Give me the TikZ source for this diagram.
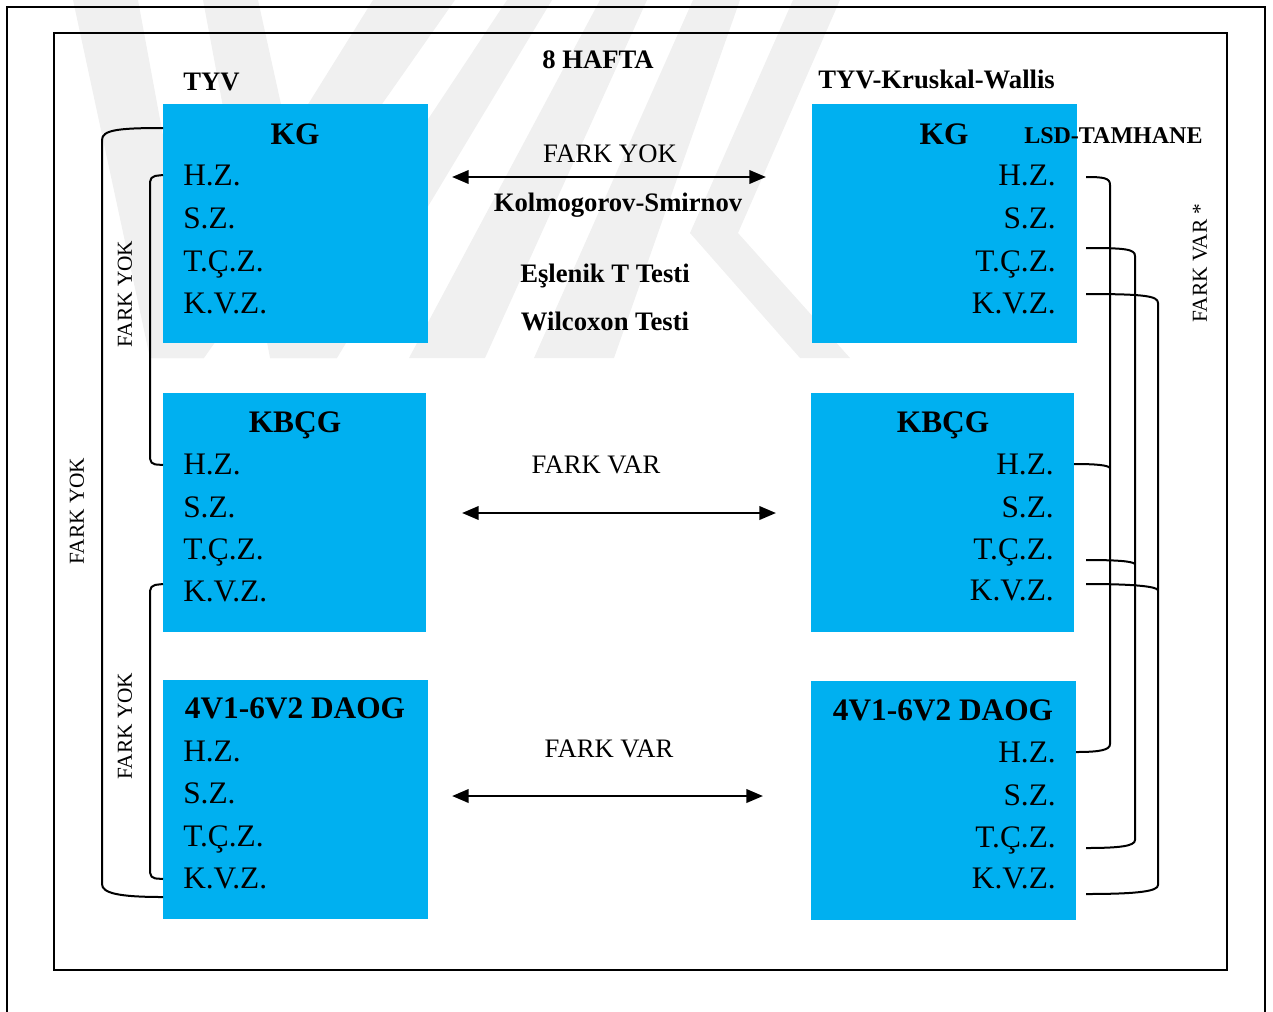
\documentclass[tikz,border=0pt]{standalone}
\usepackage{fontspec}
\setmainfont{Liberation Serif}
\usetikzlibrary{arrows.meta}
\definecolor{boxblue}{HTML}{00B0F0}
\definecolor{wmgray}{HTML}{F0F0F0}
\tikzset{
  bluebox/.style={fill=boxblue, draw=none, inner sep=0, anchor=north west},
  boxtxt/.style={font=\fontsize{23.5}{28}\selectfont, inner sep=0},
  boxhead/.style={font=\fontsize{23.5}{28}\selectfont\bfseries, inner sep=0, anchor=base},
  lbl/.style={font=\fontsize{20}{24}\selectfont, inner sep=0, anchor=base},
  blbl/.style={font=\fontsize{20}{24}\selectfont\bfseries, inner sep=0, anchor=base},
  vlbl/.style={font=\fontsize{16}{19}\selectfont, inner sep=0, rotate=90, anchor=center},
  conn/.style={line width=1.5pt, line join=round},
  twoarrow/.style={line width=2pt, {Triangle[length=12.5pt,width=10pt]}-{Triangle[length=12.5pt,width=10pt]}},
  frameline/.style={line width=1.9pt},
  wm/.style={fill=wmgray, draw=none}
}
\begin{document}
\begin{tikzpicture}[x=0.75pt,y=-0.75pt]
\useasboundingbox (0,0) rectangle (1273,1011);
% watermark (faint)
\begin{scope}
\clip (0,0) rectangle (1273,358);
\fill[wm] (373,0) -- (455,0) -- (204,358) -- (150,358) -- cycle;
\fill[wm] (73,0) -- (138,0) -- (204,358) -- (150,358) -- cycle;
\fill[wm] (507,0) -- (552,0) -- (337,358) -- (270,358) -- cycle;
\fill[wm] (203,0) -- (258,0) -- (337,358) -- (270,358) -- cycle;
\fill[wm] (600,0) -- (647,0) -- (485,358) -- (409,358) -- cycle;
\fill[wm] (693,0) -- (740,0) -- (614,358) -- (534,358) -- cycle;
\fill[wm] (793,0) -- (840,0) -- (738,233) -- (690,233) -- cycle;
\fill[wm] (690,233) -- (738,233) -- (850,358) -- (800,358) -- cycle;
\end{scope}
% frames
\draw[frameline] (7,1015) -- (7,7) -- (1265,7) -- (1265,1015);
\draw[frameline] (54,33) rectangle (1227,970);
% boxes
\node[bluebox, minimum width=265*0.75pt, minimum height=239*0.75pt] (lkg) at (163,104) {};
\node[bluebox, minimum width=263*0.75pt, minimum height=239*0.75pt] (lkb) at (163,393) {};
\node[bluebox, minimum width=265*0.75pt, minimum height=239*0.75pt] (lda) at (163,680) {};
\node[bluebox, minimum width=265*0.75pt, minimum height=239*0.75pt] (rkg) at (812,104) {};
\node[bluebox, minimum width=263*0.75pt, minimum height=239*0.75pt] (rkb) at (811,393) {};
\node[bluebox, minimum width=265*0.75pt, minimum height=239*0.75pt] (rda) at (811,681) {};
% left box texts
\node[boxhead] (lkgh) at (295,144) {KG};
\node[boxtxt, anchor=base west] (lkg1) at (183,185) {H.Z.};
\node[boxtxt, anchor=base west] (lkg2) at (183,228) {S.Z.};
\node[boxtxt, anchor=base west] (lkg3) at (183,271) {T.Ç.Z.};
\node[boxtxt, anchor=base west] (lkg4) at (183,313) {K.V.Z.};
\node[boxhead] (lkbh) at (295,432) {KBÇG};
\node[boxtxt, anchor=base west] (lkb1) at (183,474) {H.Z.};
\node[boxtxt, anchor=base west] (lkb2) at (183,517) {S.Z.};
\node[boxtxt, anchor=base west] (lkb3) at (183,559) {T.Ç.Z.};
\node[boxtxt, anchor=base west] (lkb4) at (183,601) {K.V.Z.};
\node[boxhead] (ldah) at (295,718) {4V1-6V2 DAOG};
\node[boxtxt, anchor=base west] (lda1) at (183,761) {H.Z.};
\node[boxtxt, anchor=base west] (lda2) at (183,803) {S.Z.};
\node[boxtxt, anchor=base west] (lda3) at (183,846) {T.Ç.Z.};
\node[boxtxt, anchor=base west] (lda4) at (183,888) {K.V.Z.};
% right box texts
\node[boxhead] (rkgh) at (944,144) {KG};
\node[boxtxt, anchor=base east] (rkg1) at (1056,185) {H.Z.};
\node[boxtxt, anchor=base east] (rkg2) at (1056,228) {S.Z.};
\node[boxtxt, anchor=base east] (rkg3) at (1056,271) {T.Ç.Z.};
\node[boxtxt, anchor=base east] (rkg4) at (1056,313) {K.V.Z.};
\node[boxhead] (rkbh) at (943,432) {KBÇG};
\node[boxtxt, anchor=base east] (rkb1) at (1054,474) {H.Z.};
\node[boxtxt, anchor=base east] (rkb2) at (1054,517) {S.Z.};
\node[boxtxt, anchor=base east] (rkb3) at (1054,559) {T.Ç.Z.};
\node[boxtxt, anchor=base east] (rkb4) at (1054,600) {K.V.Z.};
\node[boxhead] (rdah) at (943,720) {4V1-6V2 DAOG};
\node[boxtxt, anchor=base east] (rda1) at (1056,762) {H.Z.};
\node[boxtxt, anchor=base east] (rda2) at (1056,805) {S.Z.};
\node[boxtxt, anchor=base east] (rda3) at (1056,847) {T.Ç.Z.};
\node[boxtxt, anchor=base east] (rda4) at (1056,888) {K.V.Z.};
% titles
\node[blbl, anchor=base west] (tyv) at (183,90) {TYV};
\node[blbl] (hafta) at (598,68) {8 HAFTA};
\node[blbl, anchor=base west] (kw) at (818,88) {TYV-Kruskal-Wallis};
\node[font=\fontsize{18}{21}\selectfont\bfseries, inner sep=0, anchor=base west] (lsd) at (1024,143) {LSD-TAMHANE};
% centre labels
\node[lbl] (fy1) at (610,162) {FARK YOK};
\node[blbl] (ks) at (618,211) {Kolmogorov-Smirnov};
\node[blbl] (et) at (605,282) {Eşlenik T Testi};
\node[blbl] (wt) at (605,330) {Wilcoxon Testi};
\node[lbl] (fv1) at (596,473) {FARK VAR};
\node[lbl] (fv2) at (609,757) {FARK VAR};
% arrows
\coordinate (a1l) at (452,177); \coordinate (a1r) at (766,177);
\coordinate (a2l) at (462,513); \coordinate (a2r) at (776,513);
\coordinate (a3l) at (452,796); \coordinate (a3r) at (763,796);
\draw[twoarrow] (a1l) -- (a1r);
\draw[twoarrow] (a2l) -- (a2r);
\draw[twoarrow] (a3l) -- (a3r);
% left brackets
\coordinate (lo1) at (163,128); \coordinate (lo2) at (163,897);
\draw[conn] (lo1) .. controls (118,128) and (102,130) .. (102,140) -- (102,884) .. controls (102,893) and (118,897) .. (lo2);
\coordinate (li1) at (163,175); \coordinate (li2) at (163,465);
\draw[conn, rounded corners=4pt] (li1) -- (150,176.5) -- (150,464) -- (li2);
\coordinate (li3) at (163,584); \coordinate (li4) at (163,879);
\draw[conn, rounded corners=4pt] (li3) -- (150,585.5) -- (150,878) -- (li4);
\node[vlbl] (vfy1) at (125,294) {FARK YOK};
\node[vlbl] (vfy2) at (125,726) {FARK YOK};
\node[vlbl] (vfy3) at (77,511) {FARK YOK};
% right brackets
\coordinate (r1a) at (1086,177); \coordinate (r1b) at (1076,752);
\draw[conn] (r1a) .. controls (1104,177) and (1110,178) .. (1110,185) -- (1110,744) .. controls (1110,750) and (1100,752) .. (r1b);
\coordinate (r2a) at (1086,248); \coordinate (r2b) at (1086,848);
\draw[conn] (r2a) .. controls (1125,248) and (1135,249) .. (1135,256) -- (1135,840) .. controls (1135,846) and (1120,848) .. (r2b);
\coordinate (r3a) at (1086,294); \coordinate (r3b) at (1086,894);
\draw[conn] (r3a) .. controls (1145,294) and (1158,296) .. (1158,303) -- (1158,885) .. controls (1158,891) and (1140,894) .. (r3b);
\coordinate (m1) at (1074,464); \coordinate (m2) at (1086,560); \coordinate (m3) at (1086,584);
\draw[conn] (m1) .. controls (1095,464) and (1108,465) .. (1110,468);
\draw[conn] (m2) .. controls (1115,560) and (1132,561) .. (1135,564);
\draw[conn] (m3) .. controls (1130,584) and (1155,586) .. (1158,590);
\node[vlbl] (vfv) at (1200,263) {FARK VAR *};
\end{tikzpicture}
\end{document}
